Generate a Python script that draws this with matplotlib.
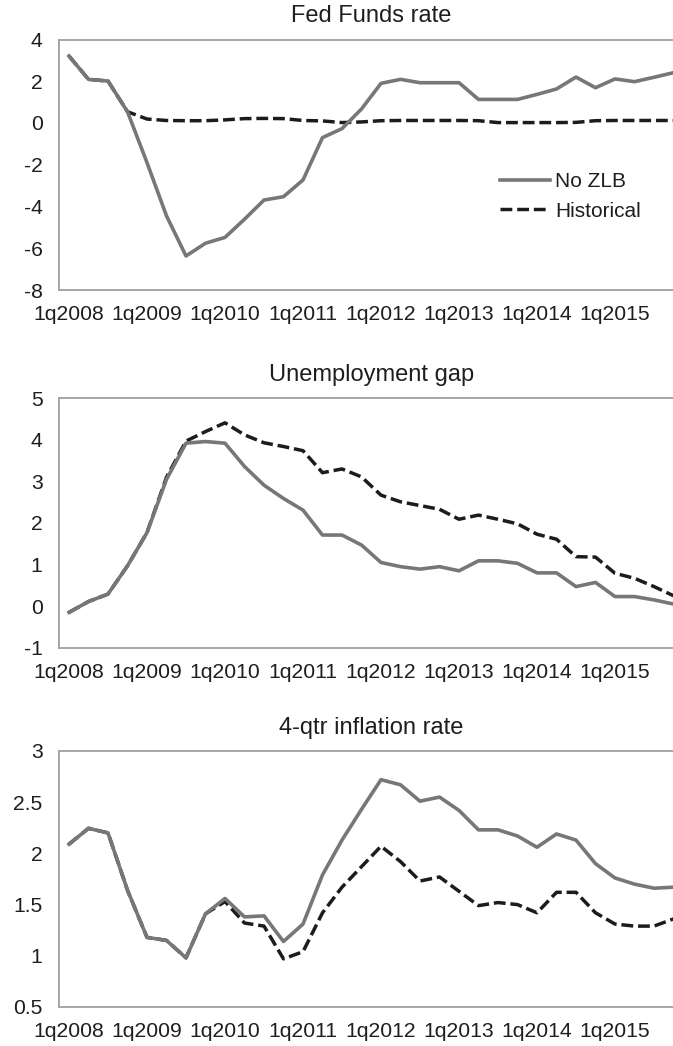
import matplotlib
matplotlib.use("Agg")
import matplotlib.pyplot as plt
from matplotlib.lines import Line2D

plt.rcParams['font.family'] = ['Liberation Sans', 'DejaVu Sans']

# quarterly, 1q2008 .. 4q2015
quarters = [f"{q}q{y}" for y in range(2008, 2016) for q in range(1, 5)]
tick_labels = [f"1q{y}" for y in range(2008, 2016)]

fed_nozlb = [3.21, 2.09, 2.01, 0.54, -1.90, -4.45, -6.37, -5.76, -5.48, -4.61,
             -3.69, -3.53, -2.73, -0.70, -0.27, 0.67, 1.90, 2.09, 1.93, 1.93,
             1.93, 1.13, 1.13, 1.13, 1.37, 1.63, 2.20, 1.69, 2.11, 1.98, 2.19, 2.41]
fed_hist = [3.21, 2.09, 2.01, 0.54, 0.19, 0.12, 0.11, 0.11, 0.15, 0.21,
            0.22, 0.21, 0.12, 0.10, 0.02, 0.05, 0.11, 0.12, 0.12, 0.12,
            0.12, 0.11, 0.02, 0.02, 0.02, 0.02, 0.03, 0.11, 0.12, 0.12, 0.12, 0.12]

unemp_nozlb = [-0.15, 0.11, 0.29, 0.97, 1.77, 3.05, 3.92, 3.96, 3.92, 3.36,
               2.91, 2.59, 2.31, 1.71, 1.71, 1.47, 1.05, 0.95, 0.89, 0.95,
               0.85, 1.09, 1.09, 1.03, 0.80, 0.80, 0.47, 0.57, 0.23, 0.23, 0.15, 0.05]
unemp_hist = [-0.15, 0.11, 0.29, 0.97, 1.77, 3.10, 3.97, 4.20, 4.41, 4.12,
              3.93, 3.84, 3.74, 3.21, 3.30, 3.11, 2.67, 2.51, 2.42, 2.33,
              2.09, 2.19, 2.09, 1.98, 1.73, 1.61, 1.19, 1.18, 0.79, 0.67, 0.47, 0.25]

infl_nozlb = [2.09, 2.245, 2.20, 1.64, 1.18, 1.15, 0.98, 1.41, 1.56, 1.38,
              1.39, 1.14, 1.31, 1.79, 2.13, 2.43, 2.72, 2.67, 2.51, 2.55,
              2.42, 2.23, 2.23, 2.17, 2.06, 2.19, 2.13, 1.90, 1.76, 1.70, 1.66, 1.67]
infl_hist = [2.09, 2.245, 2.20, 1.64, 1.18, 1.15, 0.98, 1.41, 1.53, 1.32,
             1.29, 0.97, 1.04, 1.42, 1.67, 1.87, 2.07, 1.92, 1.73, 1.77,
             1.63, 1.49, 1.52, 1.50, 1.42, 1.62, 1.62, 1.42, 1.31, 1.29, 1.29, 1.36]

panels = [
    ("Fed Funds rate", fed_nozlb, fed_hist, (-8, 4), [-8, -6, -4, -2, 0, 2, 4]),
    ("Unemployment gap", unemp_nozlb, unemp_hist, (-1, 5), [-1, 0, 1, 2, 3, 4, 5]),
    ("4-qtr inflation rate", infl_nozlb, infl_hist, (0.5, 3), [0.5, 1, 1.5, 2, 2.5, 3]),
]

W, H = 673, 1046
fig = plt.figure(figsize=(W / 100, H / 100), dpi=100)
# axes boxes in pixels (top, bottom); right side runs past the figure edge like the source
boxes = [(39.5, 290.0), (398.3, 647.7), (751.0, 1007.0)]
left_px, width_px = 59.25, 624.0

GREY = '#777777'
DARK = '#1c1c1c'
FRAME = '#a6a6a6'
TXT = '#1e1e1e'
dash = (0, (3.4, 1.4))

x = list(range(len(quarters)))
for i, ((title, nozlb, hist, ylim, yticks), (top, bot)) in enumerate(zip(panels, boxes)):
    ax = fig.add_axes([left_px / W, (H - bot) / H, width_px / W, (bot - top) / H])
    ax.plot(x, hist, color=DARK, lw=2.5, linestyle=dash, dash_capstyle='butt', zorder=2)
    ax.plot(x, nozlb, color=GREY, lw=2.6, solid_joinstyle='round', zorder=3)
    ax.set_xlim(-0.5, len(quarters) - 0.5)
    ax.set_ylim(*ylim)
    ax.set_yticks(yticks)
    ax.set_yticklabels([f"{v:g}" for v in yticks])
    ax.set_xticks(x[::4])
    ax.set_xticklabels(tick_labels)
    ax.tick_params(axis='both', length=0, labelsize=15.2, colors=TXT)
    ax.tick_params(axis='y', pad=12)
    ax.tick_params(axis='x', pad=11)
    for sp in ax.spines.values():
        sp.set_color(FRAME)
        sp.set_linewidth(1.4)
    ax.set_title(title, fontsize=17, color=TXT, pad=12.5)
    if i == 0:
        handles = [Line2D([0], [0], color=GREY, lw=2.6),
                   Line2D([0], [0], color=DARK, lw=2.5, linestyle=dash, dash_capstyle='butt')]
        ax.legend(handles, ["No ZLB", "Historical"], loc='center left',
                  bbox_to_anchor=(0.706, 0.373), frameon=False, fontsize=15,
                  handlelength=2.4, handletextpad=0.25, labelspacing=0.5,
                  borderpad=0, borderaxespad=0, labelcolor=TXT)

fig.savefig("out.png", dpi=100)
